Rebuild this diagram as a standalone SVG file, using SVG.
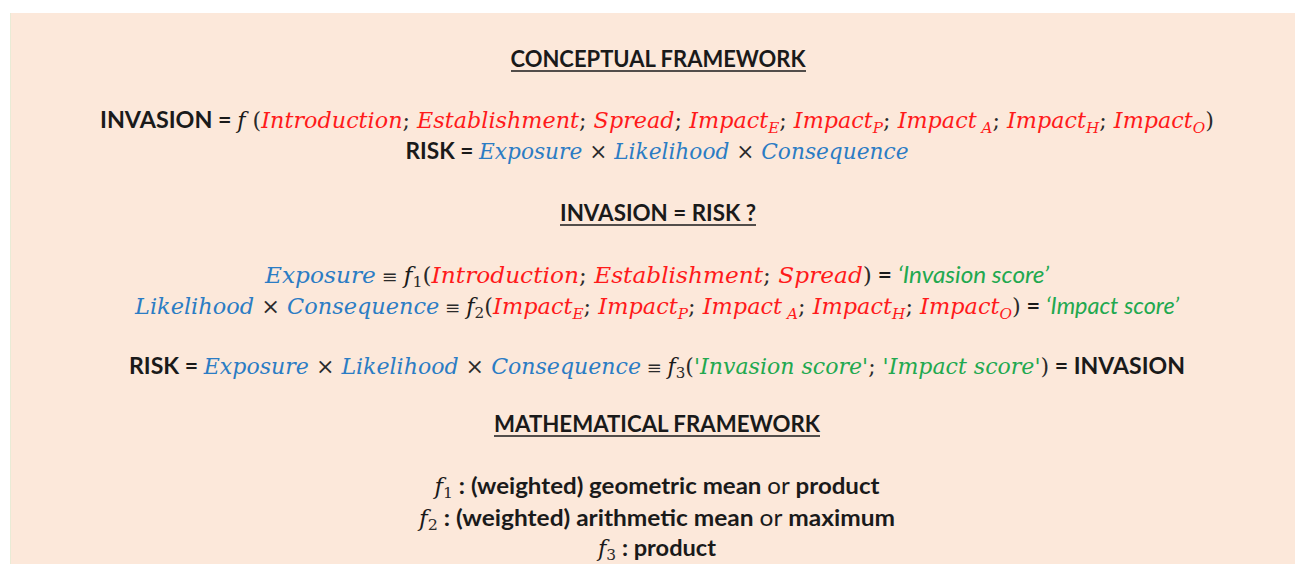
<svg xmlns="http://www.w3.org/2000/svg" width="1295" height="564" viewBox="0 0 1295 564">
<style>
.b{font-family:Lato,"Open Sans","Liberation Sans",sans-serif;font-weight:bold;font-size:23px;fill:#1a1a1a}
.n{font-weight:normal}
.m{font-family:"DejaVu Serif","Liberation Serif",serif;font-style:italic;font-weight:normal;font-size:22px}
.p{font-family:"DejaVu Serif","Liberation Serif",serif;font-style:normal;font-weight:normal;font-size:22px;fill:#2a2a2a}
.e{font-size:18px}
.si{font-family:Lato,"Open Sans",sans-serif;font-style:italic;font-weight:normal;font-size:23px}
.r{fill:#ff1a1a}
.u{fill:#2b7cc4}
.g{fill:#22a84f}
.k{fill:#1a1a1a}
.s{font-size:15px}
.ul{stroke:#1a1a1a;stroke-width:1.6}
</style>
<rect x="10" y="13" width="1285" height="551" fill="#fce8da"/>
<line x1="10.5" y1="13" x2="10.5" y2="564" stroke="#e8ebd6" stroke-width="1"/>

<g id="heading-conceptual">
<text class="b" x="658" y="67" text-anchor="middle" textLength="295" lengthAdjust="spacingAndGlyphs">CONCEPTUAL FRAMEWORK</text>
<line class="ul" x1="511" y1="71" x2="806" y2="71"/>
</g>

<g id="invasion-definition">
<text class="b" x="657" y="128" text-anchor="middle" textLength="1114" lengthAdjust="spacingAndGlyphs">INVASION = <tspan class="m k">f</tspan><tspan class="p"> (</tspan><tspan class="m r">Introduction</tspan><tspan class="p">; </tspan><tspan class="m r">Establishment</tspan><tspan class="p">; </tspan><tspan class="m r">Spread</tspan><tspan class="p">; </tspan><tspan class="m r">Impact</tspan><tspan class="m r s" dy="5">E</tspan><tspan class="p" dy="-5">; </tspan><tspan class="m r">Impact</tspan><tspan class="m r s" dy="5">P</tspan><tspan class="p" dy="-5">; </tspan><tspan class="m r">Impact</tspan><tspan class="m r s" dy="5"> A</tspan><tspan class="p" dy="-5">; </tspan><tspan class="m r">Impact</tspan><tspan class="m r s" dy="5">H</tspan><tspan class="p" dy="-5">; </tspan><tspan class="m r">Impact</tspan><tspan class="m r s" dy="5">O</tspan><tspan class="p" dy="-5">)</tspan></text>
</g>

<g id="risk-definition">
<text class="b" x="657" y="159" text-anchor="middle" textLength="503" lengthAdjust="spacingAndGlyphs">RISK = <tspan class="m u">Exposure</tspan><tspan class="p"> × </tspan><tspan class="m u">Likelihood</tspan><tspan class="p"> × </tspan><tspan class="m u">Consequence</tspan></text>
</g>

<g id="heading-question">
<text class="b" x="658" y="221" text-anchor="middle" textLength="196" lengthAdjust="spacingAndGlyphs">INVASION = RISK ?</text>
<line class="ul" x1="560" y1="225" x2="756" y2="225"/>
</g>

<g id="exposure-line">
<text class="b" x="657" y="283" text-anchor="middle" textLength="784" lengthAdjust="spacingAndGlyphs"><tspan class="m u">Exposure</tspan><tspan class="p e"> ≡ </tspan><tspan class="m k">f</tspan><tspan class="p s" dy="4">1</tspan><tspan class="p" dy="-4">(</tspan><tspan class="m r">Introduction</tspan><tspan class="p">; </tspan><tspan class="m r">Establishment</tspan><tspan class="p">; </tspan><tspan class="m r">Spread</tspan><tspan class="p">)</tspan> = <tspan class="si g">‘Invasion score’</tspan></text>
</g>

<g id="impact-line">
<text class="b" x="657" y="314" text-anchor="middle" textLength="1044" lengthAdjust="spacingAndGlyphs"><tspan class="m u">Likelihood</tspan><tspan class="p"> × </tspan><tspan class="m u">Consequence</tspan><tspan class="p e"> ≡ </tspan><tspan class="m k">f</tspan><tspan class="p s" dy="4">2</tspan><tspan class="p" dy="-4">(</tspan><tspan class="m r">Impact</tspan><tspan class="m r s" dy="5">E</tspan><tspan class="p" dy="-5">; </tspan><tspan class="m r">Impact</tspan><tspan class="m r s" dy="5">P</tspan><tspan class="p" dy="-5">; </tspan><tspan class="m r">Impact</tspan><tspan class="m r s" dy="5"> A</tspan><tspan class="p" dy="-5">; </tspan><tspan class="m r">Impact</tspan><tspan class="m r s" dy="5">H</tspan><tspan class="p" dy="-5">; </tspan><tspan class="m r">Impact</tspan><tspan class="m r s" dy="5">O</tspan><tspan class="p" dy="-5">)</tspan> = <tspan class="si g">‘Impact score’</tspan></text>
</g>

<g id="risk-invasion-line">
<text class="b" x="657" y="374" text-anchor="middle" textLength="1056" lengthAdjust="spacingAndGlyphs">RISK = <tspan class="m u">Exposure</tspan><tspan class="p"> × </tspan><tspan class="m u">Likelihood</tspan><tspan class="p"> × </tspan><tspan class="m u">Consequence</tspan><tspan class="p e"> ≡ </tspan><tspan class="m k">f</tspan><tspan class="p s" dy="4">3</tspan><tspan class="p" dy="-4">(</tspan><tspan class="m g">'Invasion score'</tspan><tspan class="p">; </tspan><tspan class="m g">'Impact score'</tspan><tspan class="p">)</tspan> = INVASION</text>
</g>

<g id="heading-mathematical">
<text class="b" x="657" y="432" text-anchor="middle" textLength="326" lengthAdjust="spacingAndGlyphs">MATHEMATICAL FRAMEWORK</text>
<line class="ul" x1="494" y1="436" x2="820" y2="436"/>
</g>

<g id="f1-line">
<text class="b" x="657" y="494" text-anchor="middle" textLength="445" lengthAdjust="spacingAndGlyphs"><tspan class="m k">f</tspan><tspan class="p s" dy="4">1</tspan><tspan dy="-4"> : (weighted) geometric mean </tspan><tspan class="n">or</tspan> product</text>
</g>
<g id="f2-line">
<text class="b" x="657" y="526" text-anchor="middle" textLength="476" lengthAdjust="spacingAndGlyphs"><tspan class="m k">f</tspan><tspan class="p s" dy="4">2</tspan><tspan dy="-4"> : (weighted) arithmetic mean </tspan><tspan class="n">or</tspan> maximum</text>
</g>
<g id="f3-line">
<text class="b" x="657" y="556" text-anchor="middle" textLength="118" lengthAdjust="spacingAndGlyphs"><tspan class="m k">f</tspan><tspan class="p s" dy="4">3</tspan><tspan dy="-4"> : product</tspan></text>
</g>
</svg>
